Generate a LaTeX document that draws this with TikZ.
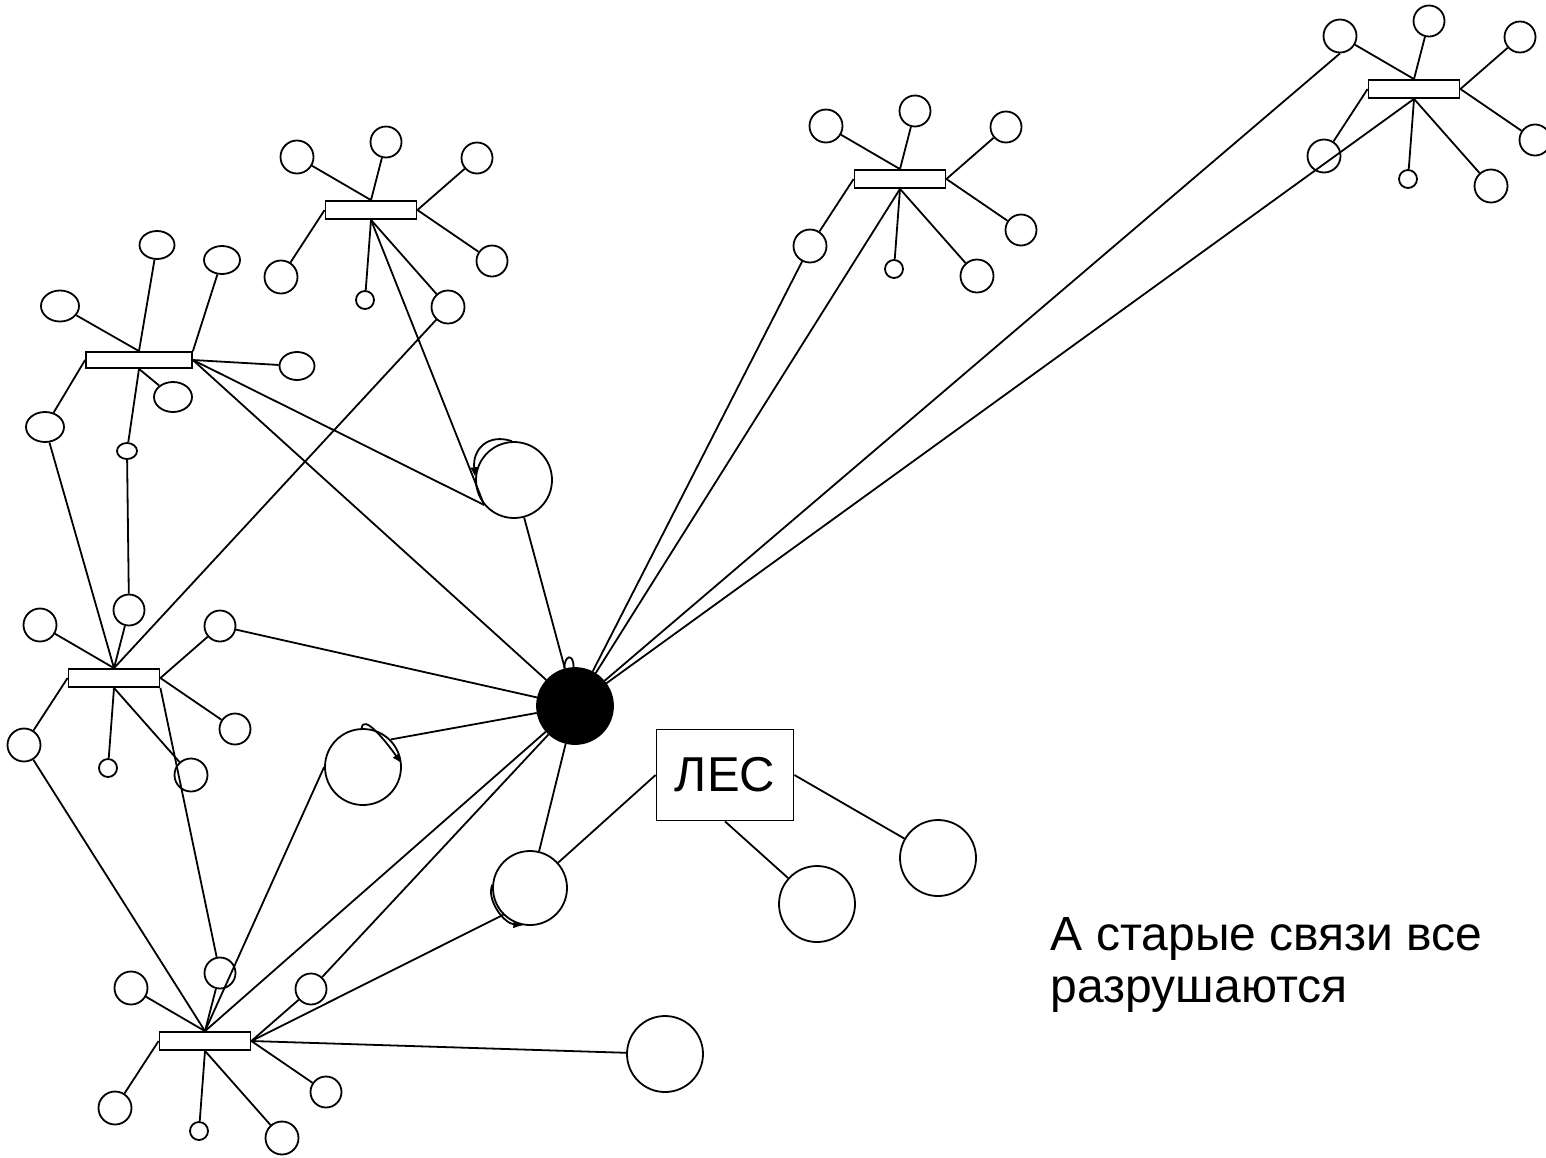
\documentclass[tikz,border=0pt]{standalone}
\usepackage{fontspec}
\setmainfont{Liberation Sans}
\usetikzlibrary{shapes.geometric,arrows.meta}

\tikzset{
  bar/.style={draw,rectangle,inner sep=0pt,minimum width=91pt,minimum height=18pt},
  ring/.style={draw,circle,inner sep=0pt,minimum size=33pt},
  ringb/.style={ring,minimum size=31pt},
  dot/.style={ring,minimum size=18pt},
  big/.style={ring,minimum size=76pt},
  oval/.style={draw,ellipse,inner sep=0pt},
  loop/.style={-{Latex[length=10pt,width=8pt]}},
}

% one hub with its seven round members
\newcommand{\starhub}[2]{%
  \begin{scope}[shift={(#2)}]
    \node[bar] (#1) at (0,0) {};
    \node[ring] (#1tl) at (-74,-53) {};
    \node[ringb] (#1tp) at (15,-68) {};
    \node[ringb] (#1rt) at (106,-52) {};
    \node[ringb] (#1rl) at (121,51) {};
    \node[ring] (#1ll) at (-90,67) {};
    \node[dot] (#1sm) at (-6,90) {};
    \node[ring] (#1lo) at (77,97) {};
  \end{scope}
  \draw (#1tl) -- (#1.north) (#1tp) -- (#1.north)
        (#1rt) -- (#1.east) (#1rl) -- (#1.east)
        (#1ll) -- (#1.west)
        (#1sm) -- (#1.south) (#1lo) -- (#1.south);}

\begin{document}
\begin{tikzpicture}[x=1pt,y=-1pt,line width=1.8pt]
  \useasboundingbox (0,0) rectangle (1546,1157);

  \starhub{A}{371,210}
  \starhub{C}{114,678}
  \starhub{D}{205,1041}
  \starhub{E}{900,179}
  \starhub{F}{1414,89}

  \node[bar,minimum width=106pt,minimum height=16pt] (B) at (139,360) {};
  \node[oval,minimum width=35pt,minimum height=28pt] (Bt) at (157,245) {};
  \node[oval,minimum width=36pt,minimum height=28pt] (Btr) at (222,260) {};
  \node[oval,minimum width=38pt,minimum height=31pt] (Bl) at (60,306) {};
  \node[oval,minimum width=35pt,minimum height=28pt] (Br) at (297,366) {};
  \node[oval,minimum width=38pt,minimum height=30pt] (Bbr) at (173,397) {};
  \node[oval,minimum width=38pt,minimum height=30pt] (Bll) at (45,427) {};
  \node[oval,minimum width=20pt,minimum height=16pt] (Bsm) at (127,451) {};
  \draw (Bl) -- (B.north) (Bt) -- (B.north) (Btr) -- (B.north east)
        (Br) -- (B.east) (Bbr) -- (B.south) (Bsm) -- (B.south)
        (Bll) -- (B.west);

  \node[big,fill=black] (hub) at (575,706) {};
  \node[big] (la) at (514,480) {};
  \node[big] (lb) at (363,767) {};
  \node[ring,minimum size=74pt] (lc) at (530,888) {};
  \node[big] (far) at (665,1054) {};
  \node[draw,rectangle,minimum width=137pt,minimum height=91pt,inner sep=0pt,
        font=\fontsize{49}{55}\selectfont] (les) at (725,775) {ЛЕС};
  \node[big] (lesr) at (938,858) {};
  \node[big] (lesd) at (817,904) {};

  \draw (A.south) -- (la.220);
  \draw (B.east) -- (la.220);
  \draw (B.east) -- (hub);
  \draw (la) -- (hub);
  \draw (Bll) -- (C.north);
  \draw (Bsm) -- (Ctp);
  \draw (Alo) -- (C.north);
  \draw (Crt) -- (hub);
  \draw (C.south east) -- (Dtp);
  \draw (Cll) -- (D.north);
  \draw (lb.west) -- (D.north);
  \draw (lb.45) -- (hub);
  \draw (hub) -- (D.north);
  \draw (hub) -- (Drt);
  \draw (hub) -- (lc);
  \draw (D.east) -- (lc.225);
  \draw (D.east) -- (far);
  \draw (les.west) -- (lc);
  \draw (les.east) -- (lesr);
  \draw (les.south) -- (lesd);
  \draw (Ell) -- (hub);
  \draw (E.south) -- (hub);
  \draw (Ftl.south) -- (hub);
  \draw (F.south) -- (hub);

  \draw[loop] (la.93) .. controls +(-24,-8) and +(-3,-28) .. (la.176);
  \draw[loop] (lb.92) .. controls +(2,-14) and +(-18,-25) .. (lb.5);
  \draw[loop] (lc.175) .. controls +(-6,15) and +(-20,-2) .. (lc.260);
  \draw (hub.106) .. controls +(0,-14) and +(0,-14) .. (hub.92);

  \node[anchor=base west,align=left,inner sep=0pt,
        font=\fontsize{48}{52}\selectfont] (note) at (1050,1002)
        {А старые связи все\\разрушаются};
\end{tikzpicture}
\end{document}
